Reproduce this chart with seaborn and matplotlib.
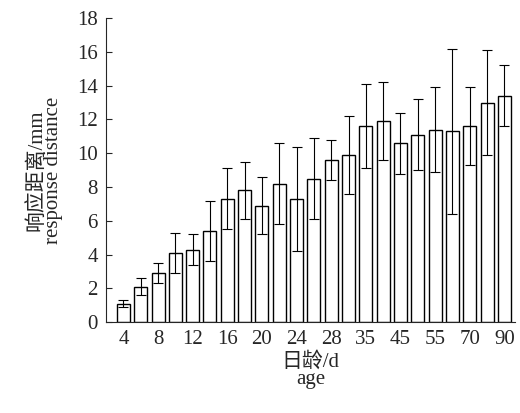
import matplotlib
matplotlib.use("Agg")
import matplotlib.pyplot as plt
import seaborn as sns
import pandas as pd
import numpy as np

ages = ["4","6","8","10","12","14","16","18","20","22","24","26","28","30","35","40","45","50","55","60","70","80","90"]
means = [1.1,2.1,2.9,4.1,4.3,5.4,7.3,7.8,6.9,8.2,7.3,8.5,9.6,9.9,11.6,11.9,10.6,11.1,11.4,11.3,11.6,13.0,13.4]
upper = [1.3,2.6,3.5,5.3,5.2,7.2,9.1,9.5,8.6,10.6,10.4,10.9,10.8,12.2,14.1,14.2,12.4,13.2,13.9,16.2,13.9,16.1,15.2]
errs = [u - m for u, m in zip(upper, means)]

sns.set_style("ticks")
plt.rcParams['font.family'] = ['Liberation Serif', 'Noto Sans CJK SC']

df = pd.DataFrame({"age": ages, "mean": means})
fig = plt.figure(figsize=(5.2, 4.13), dpi=100)
ax = fig.add_axes([0.204, 0.22, 0.786, 0.736])
sns.barplot(data=df, x="age", y="mean", ax=ax, color="white", edgecolor="black",
            linewidth=1.0, width=0.75, errorbar=None, order=ages)
ax.errorbar(np.arange(len(ages)), means, yerr=errs, fmt="none", ecolor="black",
            elinewidth=0.8, capsize=3.5, capthick=0.8)
ax.set_ylim(0, 18)
ax.set_yticks(range(0, 19, 2))
ax.set_xlim(-1.0, len(ages) - 0.4)
ax.set_xticks(range(0, len(ages), 2))
ax.set_xticklabels(ages[::2])
ax.tick_params(direction="in", labelsize=15, length=4, pad=6)
sns.despine(ax=ax)
ax.set_xlabel("日龄/d\nage", fontsize=15, linespacing=0.85, labelpad=2)
ax.set_ylabel("响应距离/mm\nresponse distance", fontsize=15, linespacing=0.85, labelpad=10)
fig.savefig("out.png", dpi=100)
